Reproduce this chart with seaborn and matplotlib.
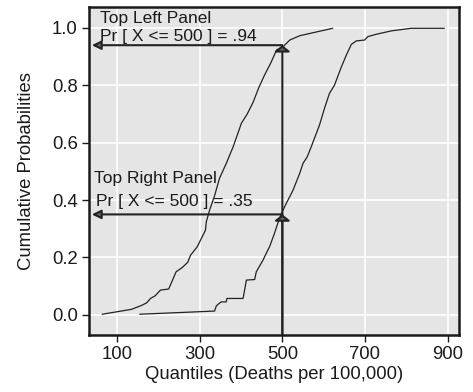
import matplotlib
matplotlib.use("Agg")
import matplotlib.pyplot as plt
import seaborn as sns
import pandas as pd

# Empirical cumulative distributions of death rates (quantile, probability)
left_q = [64, 135, 160, 172, 181, 192, 205, 225, 243, 258, 271, 278, 294, 314,
          316, 324, 336, 348, 365, 381, 401, 415, 429, 443, 457, 472, 486, 502,
          518, 542, 622]
left_p = [0.002, 0.019, 0.033, 0.042, 0.057, 0.066, 0.086, 0.090, 0.150, 0.165,
          0.183, 0.208, 0.237, 0.295, 0.324, 0.365, 0.415, 0.476, 0.530, 0.586,
          0.668, 0.700, 0.740, 0.792, 0.836, 0.878, 0.923, 0.935, 0.958, 0.973,
          0.999]

right_q = [155, 336, 340, 344, 352, 364, 366, 385, 389, 405, 413, 433, 437, 453,
           465, 469, 480, 489, 498, 510, 518, 526, 542, 550, 560, 570, 590, 602,
           614, 626, 643, 655, 667, 679, 699, 707, 727, 764, 812, 892]
right_p = [0.002, 0.013, 0.030, 0.036, 0.045, 0.045, 0.057, 0.057, 0.057, 0.057,
           0.121, 0.123, 0.150, 0.190, 0.226, 0.237, 0.280, 0.319, 0.354, 0.390,
           0.412, 0.435, 0.493, 0.528, 0.550, 0.586, 0.662, 0.720, 0.772, 0.800,
           0.865, 0.906, 0.943, 0.955, 0.958, 0.970, 0.978, 0.990, 0.999, 0.999]

x_ticks = [100, 300, 500, 700, 900]
y_ticks = [0.0, 0.2, 0.4, 0.6, 0.8, 1.0]
cutoff = 500
prob_left = 0.94
prob_right = 0.35

sns.set_theme(style="darkgrid", rc={
    "axes.facecolor": "#E5E5E5",
    "grid.color": "white",
    "grid.linewidth": 1.2,
    "axes.edgecolor": "#1a1a1a",
    "axes.linewidth": 1.8,
    "xtick.bottom": True,
    "ytick.left": True,
    "xtick.major.size": 5,
    "ytick.major.size": 5,
    "xtick.major.width": 1.0,
    "ytick.major.width": 1.0,
    "xtick.color": "#1a1a1a",
    "ytick.color": "#1a1a1a",
})
plt.rcParams["font.family"] = ["Liberation Sans", "DejaVu Sans"]

fig = plt.figure(figsize=(4.73, 3.92), dpi=100)
ax = fig.add_axes([0.188, 0.145, 0.782, 0.837])

df_left = pd.DataFrame({"q": left_q, "p": left_p})
df_right = pd.DataFrame({"q": right_q, "p": right_p})
sns.lineplot(data=df_left, x="q", y="p", sort=False, color="#222222", lw=0.9, ax=ax)
sns.lineplot(data=df_right, x="q", y="p", sort=False, color="#222222", lw=0.9, ax=ax)

ax.set_xlim(32, 927)
ax.set_ylim(-0.071, 1.073)
ax.set_xticks(x_ticks)
ax.set_yticks(y_ticks)
ax.set_yticklabels([f"{v:.1f}" for v in y_ticks])
ax.tick_params(labelsize=13.3, colors="#1a1a1a", pad=3)
ax.set_xlabel("Quantiles (Deaths per 100,000)", fontsize=13.3, color="#1a1a1a", labelpad=2)
ax.set_ylabel("Cumulative Probabilities", fontsize=13.3, color="#1a1a1a", labelpad=12)

left_end = 39
ybot = -0.071
arrow_h = dict(arrowstyle="-|>,head_length=0.45,head_width=0.22",
               color="#222222", lw=1.5, fc="#666666", shrinkA=0, shrinkB=0)
arrow_v = dict(arrowstyle="-|>,head_length=0.3,head_width=0.38",
               color="#222222", lw=1.5, fc="#666666", shrinkA=0, shrinkB=0)
for prob in (prob_left, prob_right):
    ax.annotate("", xy=(cutoff, prob), xytext=(cutoff, ybot), arrowprops=arrow_v,
                annotation_clip=False)
    ax.annotate("", xy=(left_end, prob), xytext=(cutoff, prob), arrowprops=arrow_h)

txt = dict(fontsize=12.5, color="#1a1a1a", va="baseline", ha="left")
ax.text(60, 1.016, "Top Left Panel", **txt)
ax.text(60, 0.956, "Pr [ X <= 500 ] = .94", **txt)
ax.text(44, 0.458, "Top Right Panel", **txt)
ax.text(48, 0.379, "Pr [ X <= 500 ] = .35", **txt)

fig.savefig("out.png", dpi=100)
